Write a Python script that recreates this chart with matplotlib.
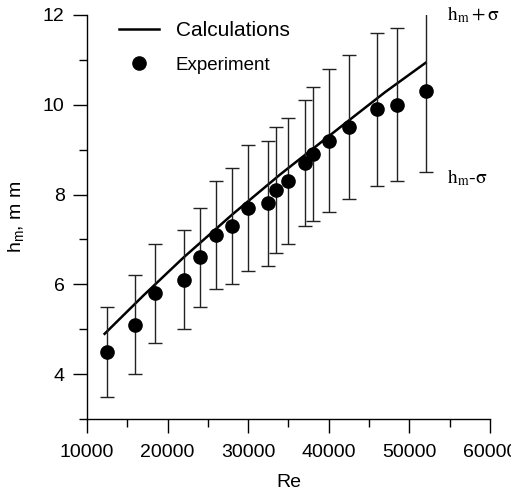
import numpy as np
import matplotlib
matplotlib.use("Agg")
import matplotlib.pyplot as plt
from matplotlib.ticker import MultipleLocator, FixedLocator
from matplotlib.lines import Line2D

plt.rcParams['font.family'] = ['Liberation Sans', 'DejaVu Sans']
plt.rcParams['mathtext.fontset'] = 'custom'
plt.rcParams['mathtext.rm'] = 'Liberation Sans'
plt.rcParams['mathtext.it'] = 'Liberation Sans:italic'

# donnees experimentales (Re, h moyen, ecart type)
re_exp = [12500, 16000, 18500, 22000, 24000, 26000, 28000, 30000, 32500, 33500,
          35000, 37000, 38000, 40000, 42500, 46000, 48500, 52000]
h_exp = [4.5, 5.1, 5.8, 6.1, 6.6, 7.1, 7.3, 7.7, 7.8, 8.1,
         8.3, 8.7, 8.9, 9.2, 9.5, 9.9, 10.0, 10.3]
sigma = [1.0, 1.1, 1.1, 1.1, 1.1, 1.2, 1.3, 1.4, 1.4, 1.4,
         1.4, 1.4, 1.5, 1.6, 1.6, 1.7, 1.7, 1.8]

# courbe calculee
re_calc = [12200, 17000, 22000, 28000, 34000, 42500, 47000, 52000]
h_calc = [4.9, 5.75, 6.6, 7.55, 8.45, 9.65, 10.28, 10.93]

fig = plt.figure(figsize=(5.11, 4.92), dpi=100)
ax = fig.add_axes([0.170, 0.148, 0.789, 0.822])

ax.plot(re_calc, h_calc, color="black", lw=1.8)
ax.errorbar(re_exp, h_exp, yerr=sigma, fmt="o", color="black", ms=9.5,
            ecolor="#222222", elinewidth=1.0, capsize=4.7, capthick=1.0)

ax.set_xlim(10000, 60000)
ax.set_ylim(3, 12)
ax.xaxis.set_major_locator(MultipleLocator(10000))
ax.xaxis.set_minor_locator(MultipleLocator(5000))
ax.yaxis.set_major_locator(FixedLocator([4, 6, 8, 10, 12]))
ax.yaxis.set_minor_locator(FixedLocator([3, 5, 7, 9, 11]))

for s in ["top", "right"]:
    ax.spines[s].set_visible(False)
ax.spines["left"].set_linewidth(1.0)
ax.spines["bottom"].set_linewidth(1.0)

ax.tick_params(which="major", length=10, width=1.0, labelsize=14, pad=8)
ax.tick_params(which="minor", length=5.5, width=1.0)
ax.tick_params(axis="y", which="major", pad=6)

ax.set_xlabel("Re", fontsize=14, labelpad=9)
ax.set_ylabel(r"h$_\mathrm{m}$, m m", fontsize=14, labelpad=12)

# annotations h_m +/- sigma
ax.text(54700, 12.0, r"$\mathrm{h_m + \sigma}$", math_fontfamily="stix",
        fontsize=14, va="center", ha="left", clip_on=False)
ax.text(54700, 8.38, r"$\mathrm{h_m}$-$\mathrm{\sigma}$", math_fontfamily="stix",
        fontsize=14, va="center", ha="left", clip_on=False, family="Liberation Serif")

# legende
handles = [Line2D([], [], color="black", lw=1.8),
           Line2D([], [], color="black", marker="o", ls="none", ms=9.5)]
leg = ax.legend(handles, ["Calculations", "Experiment"], loc="upper left",
                bbox_to_anchor=(0.06, 1.005), frameon=False,
                handlelength=1.9, handletextpad=0.8, labelspacing=0.75,
                fontsize=15, borderaxespad=0)
leg.get_texts()[1].set_fontsize(13.5)

fig.savefig("out.png", dpi=100)
